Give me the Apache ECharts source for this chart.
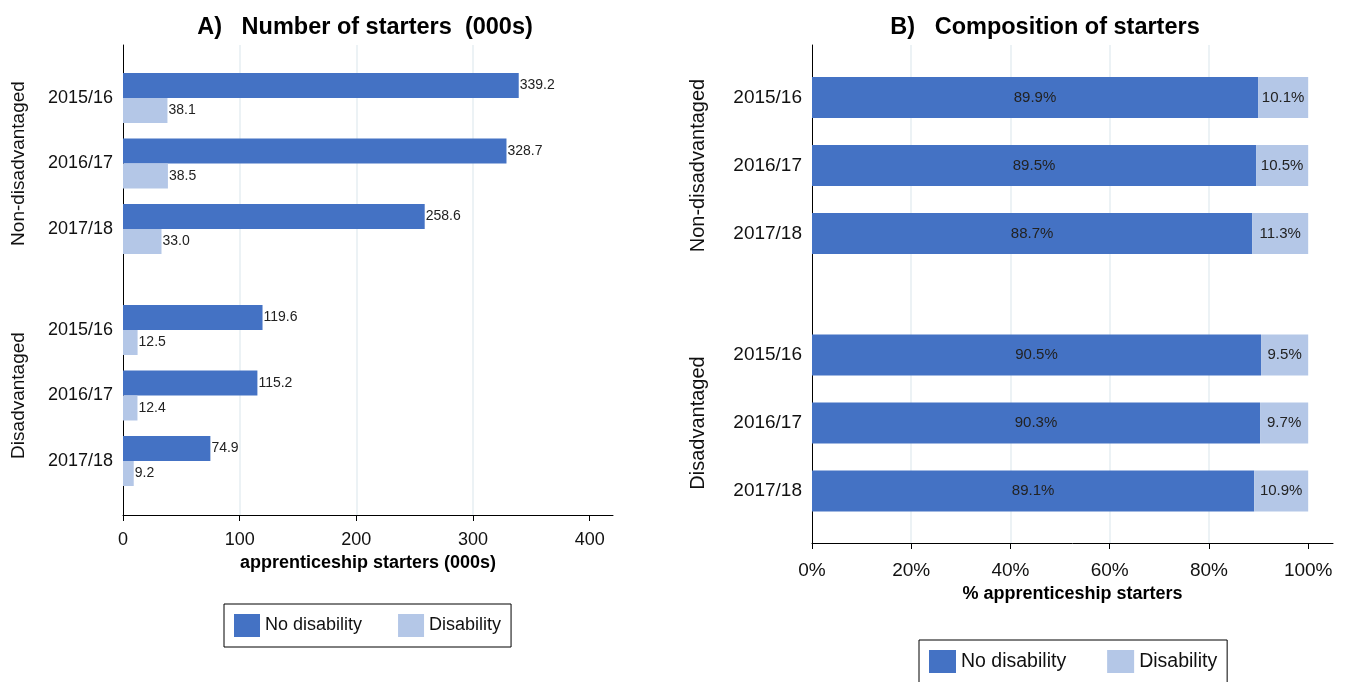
<!DOCTYPE html>
<html>
<head>
<meta charset="utf-8">
<script src="https://cdn.jsdelivr.net/npm/echarts@6/dist/echarts.min.js"></script>
<style>
html,body{margin:0;padding:0;background:#fff;}
#chart{width:1347px;height:682px;}
</style>
</head>
<body>
<div id="chart"></div>
<script>
// ---- data ----
const years = ['2015/16', '2016/17', '2017/18'];
const groupNames = ['Non-disadvantaged', 'Disadvantaged'];
const seriesNames = ['No disability', 'Disability'];

// Panel A: number of starters (000s)
const startersNoDisNonDis = [339.2, 328.7, 258.6];
const startersDisNonDis = [38.1, 38.5, 33.0];
const startersNoDisDis = [119.6, 115.2, 74.9];
const startersDisDis = [12.5, 12.4, 9.2];

// Panel B: composition (%)
const shareNoDisNonDis = [89.9, 89.5, 88.7];
const shareDisNonDis = [10.1, 10.5, 11.3];
const shareNoDisDis = [90.5, 90.3, 89.1];
const shareDisDis = [9.5, 9.7, 10.9];

const ticksA = [0, 100, 200, 300, 400];
const ticksB = [0, 20, 40, 60, 80, 100];

// ---- style ----
const DARK = '#4472C4';
const LIGHT = '#B4C7E7';
const GRIDLINE = '#e6eef2';
const FONT = "'Liberation Sans', Arial, sans-serif";

const chart = echarts.init(document.getElementById('chart'));

function frameX(max, ticks, fs, margin, name, nameGap, fmt) {
  return {
    type: 'value', min: 0, max: max, interval: ticks[1] - ticks[0],
    axisLine: {show: true, lineStyle: {color: '#000', width: 1}},
    axisTick: {show: true, length: 6, inside: false, customValues: ticks, lineStyle: {color: '#000'}},
    axisLabel: {show: true, customValues: ticks, fontSize: fs, color: '#111', margin: margin, formatter: fmt},
    splitLine: {show: true, showMinLine: false, showMaxLine: false, lineStyle: {color: GRIDLINE, width: 1.5}},
    name: name, nameLocation: 'middle', nameGap: nameGap,
    nameTextStyle: {fontSize: 18, fontWeight: 'bold', color: '#000'}
  };
}
function hiddenX(max, idx) {
  return {type: 'value', min: 0, max: max, show: false, gridIndex: idx, splitLine: {show: false}};
}
function frameY(idx) {
  return {
    type: 'value', min: 0, max: 1, gridIndex: idx,
    axisLine: {show: true, lineStyle: {color: '#000', width: 1}},
    axisTick: {show: false}, axisLabel: {show: false}, splitLine: {show: false}
  };
}
function groupY(idx, gname, fs, nameFs, nameGap) {
  return {
    type: 'category', data: years, inverse: true, gridIndex: idx,
    axisLine: {show: false}, axisTick: {show: false},
    axisLabel: {fontSize: fs, color: '#111', margin: 10},
    name: gname, nameLocation: 'middle', nameRotate: 90, nameGap: nameGap,
    nameTextStyle: {fontSize: nameFs, color: '#111'}
  };
}

const labelA = {show: true, position: 'right', distance: 1, fontSize: 14, color: '#222',
  formatter: p => p.value.toFixed(1)};
const labelB = {show: true, position: 'inside', fontSize: 15, color: '#222',
  formatter: p => p.value.toFixed(1) + '%'};

const maxA = 420, maxB = 105;

const xA = frameX(maxA, ticksA, 18, 16, 'apprenticeship starters (000s)', 33, '{value}');
xA.gridIndex = 0;
const xB = frameX(maxB, ticksB, 19, 18, '% apprenticeship starters', 37, '{value}%');
xB.gridIndex = 3;

const option = {
  animation: false,
  textStyle: {fontFamily: FONT},
  title: [
    {text: 'A)   Number of starters  (000s)', left: 360, top: 11, textAlign: 'center',
     textStyle: {fontSize: 23.5, fontWeight: 'bold', color: '#000', fontFamily: FONT}},
    {text: 'B)   Composition of starters', left: 1040, top: 11, textAlign: 'center',
     textStyle: {fontSize: 23.5, fontWeight: 'bold', color: '#000', fontFamily: FONT}}
  ],
  legend: [
    {data: seriesNames, left: 224, top: 604, orient: 'horizontal', icon: 'rect',
     itemWidth: 26, itemHeight: 23, itemGap: 36, padding: [10, 10],
     borderColor: '#000', borderWidth: 1,
     textStyle: {fontSize: 18, color: '#111'}},
    {data: seriesNames, left: 919, top: 640, orient: 'horizontal', icon: 'rect',
     itemWidth: 27, itemHeight: 23, itemGap: 41, padding: [10, 10],
     borderColor: '#000', borderWidth: 1,
     textStyle: {fontSize: 19.5, color: '#111'}}
  ],
  grid: [
    {left: 123, top: 45, width: 490, height: 470, outerBoundsMode: 'none'},
    {left: 123, top: 65.25, width: 490, height: 196.5, outerBoundsMode: 'none'},
    {left: 123, top: 297.25, width: 490, height: 196.5, outerBoundsMode: 'none'},
    {left: 812, top: 45, width: 521, height: 498, outerBoundsMode: 'none'},
    {left: 812, top: 63.5, width: 521, height: 204, outerBoundsMode: 'none'},
    {left: 812, top: 321, width: 521, height: 204, outerBoundsMode: 'none'}
  ],
  xAxis: [
    xA, hiddenX(maxA, 1), hiddenX(maxA, 2),
    xB, hiddenX(maxB, 4), hiddenX(maxB, 5)
  ],
  yAxis: [
    frameY(0),
    groupY(1, groupNames[0], 18, 19, 95),
    groupY(2, groupNames[1], 18, 19, 95),
    frameY(3),
    groupY(4, groupNames[0], 19, 20, 104),
    groupY(5, groupNames[1], 19, 20, 104)
  ],
  series: [
    {name: seriesNames[0], type: 'bar', xAxisIndex: 1, yAxisIndex: 1, data: startersNoDisNonDis,
     barWidth: 25, barGap: '0%', itemStyle: {color: DARK}, label: labelA},
    {name: seriesNames[1], type: 'bar', xAxisIndex: 1, yAxisIndex: 1, data: startersDisNonDis,
     barWidth: 25, barGap: '0%', itemStyle: {color: LIGHT}, label: labelA},
    {name: seriesNames[0], type: 'bar', xAxisIndex: 2, yAxisIndex: 2, data: startersNoDisDis,
     barWidth: 25, barGap: '0%', itemStyle: {color: DARK}, label: labelA},
    {name: seriesNames[1], type: 'bar', xAxisIndex: 2, yAxisIndex: 2, data: startersDisDis,
     barWidth: 25, barGap: '0%', itemStyle: {color: LIGHT}, label: labelA},

    {name: seriesNames[0], type: 'bar', stack: 'nd', xAxisIndex: 4, yAxisIndex: 4, data: shareNoDisNonDis,
     barWidth: 41, itemStyle: {color: DARK}, label: labelB},
    {name: seriesNames[1], type: 'bar', stack: 'nd', xAxisIndex: 4, yAxisIndex: 4, data: shareDisNonDis,
     barWidth: 41, itemStyle: {color: LIGHT}, label: labelB},
    {name: seriesNames[0], type: 'bar', stack: 'd', xAxisIndex: 5, yAxisIndex: 5, data: shareNoDisDis,
     barWidth: 41, itemStyle: {color: DARK}, label: labelB},
    {name: seriesNames[1], type: 'bar', stack: 'd', xAxisIndex: 5, yAxisIndex: 5, data: shareDisDis,
     barWidth: 41, itemStyle: {color: LIGHT}, label: labelB}
  ]
};
chart.setOption(option);
</script>
</body>
</html>
